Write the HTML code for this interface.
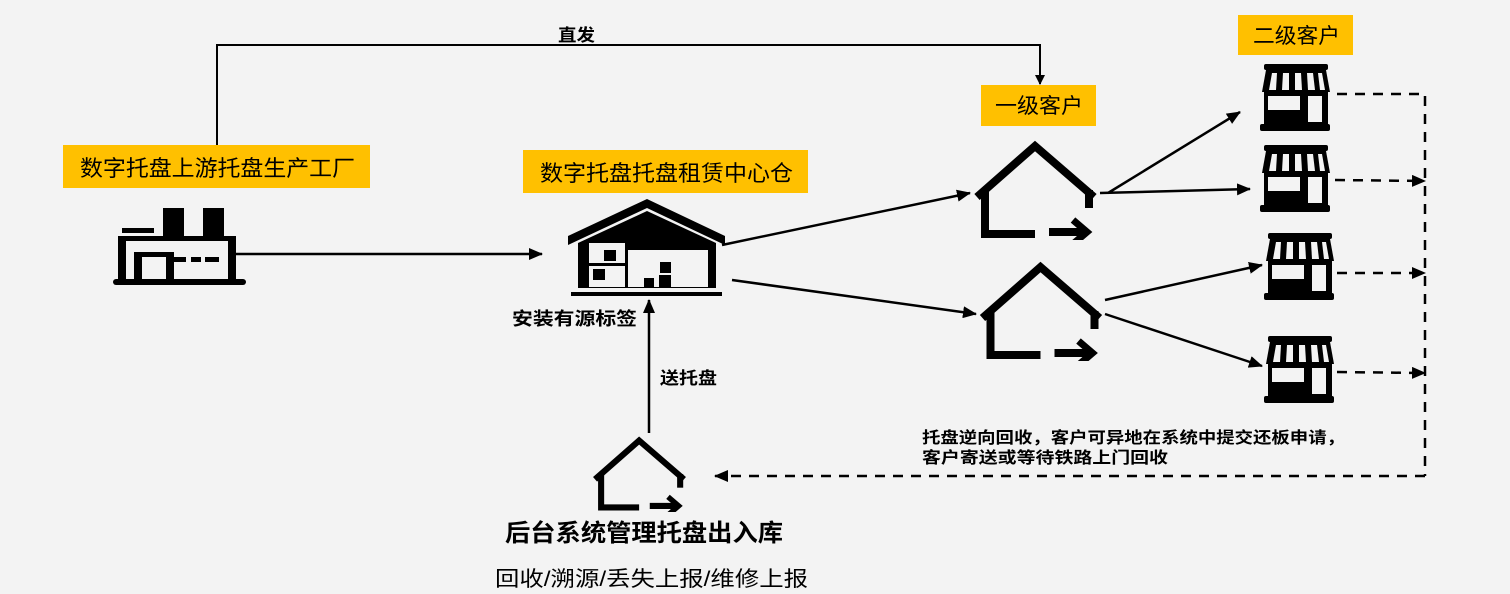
<!DOCTYPE html>
<html><head><meta charset="utf-8"><style>
body{margin:0;background:#f3f3f3;}
svg{display:block;font-family:"Liberation Sans","Noto Sans CJK SC",sans-serif;}
</style></head><body>
<svg width="1510" height="594" viewBox="0 0 1510 594">
<defs>
<marker id="ah" markerWidth="10" markerHeight="10" refX="9" refY="5" orient="auto" markerUnits="userSpaceOnUse"><path d="M0,0 L10,5 L0,10 Z" fill="#000"/></marker>
<marker id="ahb" markerWidth="14" markerHeight="12" refX="13" refY="6" orient="auto" markerUnits="userSpaceOnUse"><path d="M0,0 L14,6 L0,12 Z" fill="#000"/></marker>
<symbol id="house" viewBox="0 0 125 100">
<g fill="none" stroke="#000" stroke-width="8">
<path d="M4,57 L62,6 L121,57"/>
<path d="M12,50 L12,94 L62,94"/>
<path d="M116,50 L116,68"/>
<path d="M76,92 L112,92"/>
<path d="M100,80 L114,92 L100,104" stroke-width="7"/>
</g>
</symbol>
<symbol id="store" viewBox="0 0 72 67">
<rect x="4" y="0" width="64" height="6" rx="2" fill="#000"/>
<path d="M2,28 L6,6 L66,6 L70,28 Z" fill="#000"/>
<g fill="#f3f3f3"><path d="M9,26 L12,9 L17,9 L16,26Z"/><path d="M22,26 L23,9 L29,9 L29,26Z"/><path d="M35,26 L35,9 L41,9 L42,26Z"/><path d="M48,26 L47,9 L53,9 L55,26Z"/><path d="M60,26 L58,9 L62,9 L65,26Z"/></g>
<rect x="4" y="28" width="64" height="34" fill="#000"/>
<rect x="8" y="32" width="32" height="14" fill="#f3f3f3"/>
<rect x="48" y="32" width="14" height="26" fill="#f3f3f3"/>
<rect x="0" y="60" width="70" height="7" rx="2" fill="#000"/>
</symbol>
</defs>

<path d="M217,146 L217,45 L1040,45 L1040,84" fill="none" stroke="#000" stroke-width="2" marker-end="url(#ah)"/>
<text x="558" y="41" font-size="17" font-weight="bold" textLength="37" lengthAdjust="spacingAndGlyphs">直发</text>

<rect x="63" y="145" width="307" height="43" fill="#ffc000"/>
<text x="80" y="176" font-size="22" textLength="275" lengthAdjust="spacingAndGlyphs">数字托盘上游托盘生产工厂</text>
<g fill="#000">
<rect x="163" y="208" width="21" height="30"/><rect x="203" y="208" width="21" height="30"/>
<rect x="122" y="228" width="32" height="5"/>
<rect x="118" y="236" width="118" height="5"/>
<rect x="118" y="236" width="8" height="46"/><rect x="228" y="236" width="8" height="46"/>
<rect x="134" y="252" width="8" height="30"/><rect x="134" y="252" width="40" height="5"/><rect x="166" y="252" width="8" height="30"/>
<rect x="172" y="257" width="14" height="5"/><rect x="191" y="257" width="10" height="5"/><rect x="205" y="257" width="14" height="5"/>
<rect x="113" y="279" width="133" height="6" rx="3"/>
</g>
<line x1="230" y1="254" x2="542" y2="254" stroke="#000" stroke-width="2.5" marker-end="url(#ahb)"/>

<rect x="523" y="150" width="285" height="43" fill="#ffc000"/>
<text x="540" y="181" font-size="22" textLength="253" lengthAdjust="spacingAndGlyphs">数字托盘托盘租赁中心仓</text>
<g>
<path d="M568,236 L647,199 L725,236 L725,245 L647,208 L568,245 Z" fill="#000"/>
<path d="M578,243 L647,211 L716,243 L716,288 L578,288 Z" fill="#000"/>
<rect x="586" y="243" width="42" height="44" fill="#f3f3f3"/>
<rect x="586" y="243" width="3" height="44" fill="#000"/><rect x="625" y="243" width="3" height="44" fill="#000"/><rect x="586" y="263" width="42" height="3" fill="#000"/>
<rect x="604" y="250" width="12" height="11" fill="#000"/><rect x="593" y="269" width="12" height="11" fill="#000"/>
<rect x="628" y="250" width="80" height="37" fill="#f3f3f3"/>
<rect x="644" y="278" width="10" height="9" fill="#000"/><rect x="659" y="275" width="12" height="12" fill="#000"/><rect x="660" y="262" width="11" height="11" fill="#000"/>
<rect x="571" y="292" width="151" height="4" fill="#000"/>
</g>
<text x="512" y="325" font-size="18" font-weight="bold" textLength="125" lengthAdjust="spacingAndGlyphs">安装有源标签</text>

<line x1="649" y1="433" x2="649" y2="300" stroke="#000" stroke-width="2.5" marker-end="url(#ahb)"/>
<text x="660" y="384" font-size="17" font-weight="bold" textLength="57" lengthAdjust="spacingAndGlyphs">送托盘</text>

<use href="#house" x="592" y="436" width="95" height="76"/>
<text x="505" y="541" font-size="24" font-weight="bold" textLength="278" lengthAdjust="spacingAndGlyphs">后台系统管理托盘出入库</text>
<text x="495" y="586" font-size="21" textLength="313" lengthAdjust="spacingAndGlyphs">回收/溯源/丢失上报/维修上报</text>

<rect x="981" y="85" width="115" height="41" fill="#ffc000"/>
<text x="995" y="113" font-size="21" textLength="88" lengthAdjust="spacingAndGlyphs">一级客户</text>
<use href="#house" x="973" y="140" width="125" height="100"/>
<use href="#house" x="977" y="261" width="128" height="100"/>

<rect x="1238" y="15" width="115" height="40" fill="#ffc000"/>
<text x="1253" y="43" font-size="21" textLength="87" lengthAdjust="spacingAndGlyphs">二级客户</text>
<use href="#store" x="1260" y="64" width="72" height="67"/>
<use href="#store" x="1260" y="145" width="72" height="67"/>
<use href="#store" x="1264" y="233" width="72" height="67"/>
<use href="#store" x="1264" y="336" width="72" height="67"/>

<g stroke="#000" stroke-width="2.5" fill="none">
<line x1="722" y1="245" x2="970" y2="193" marker-end="url(#ahb)"/>
<line x1="732" y1="280" x2="976" y2="314" marker-end="url(#ahb)"/>
<line x1="1108" y1="193" x2="1240" y2="112" marker-end="url(#ahb)"/>
<line x1="1100" y1="193" x2="1250" y2="189" marker-end="url(#ahb)"/>
<line x1="1105" y1="300" x2="1262" y2="265" marker-end="url(#ahb)"/>
<line x1="1105" y1="314" x2="1262" y2="366" marker-end="url(#ahb)"/>
</g>
<g stroke="#000" stroke-width="2.5" fill="none" stroke-dasharray="10,8">
<path d="M1337,94 L1425,94 L1425,476"/>
<line x1="1335" y1="180" x2="1425" y2="181" marker-end="url(#ahb)"/>
<line x1="1337" y1="273" x2="1425" y2="273" marker-end="url(#ahb)"/>
<line x1="1337" y1="372" x2="1425" y2="373" marker-end="url(#ahb)"/>
<line x1="1425" y1="476" x2="715" y2="476" marker-end="url(#ahb)"/>
</g>
<text x="922" y="443" font-size="16" font-weight="bold" textLength="423" lengthAdjust="spacingAndGlyphs">托盘逆向回收，客户可异地在系统中提交还板申请，</text>
<text x="922" y="463" font-size="16" font-weight="bold" textLength="246" lengthAdjust="spacingAndGlyphs">客户寄送或等待铁路上门回收</text>
</svg>
</body></html>
